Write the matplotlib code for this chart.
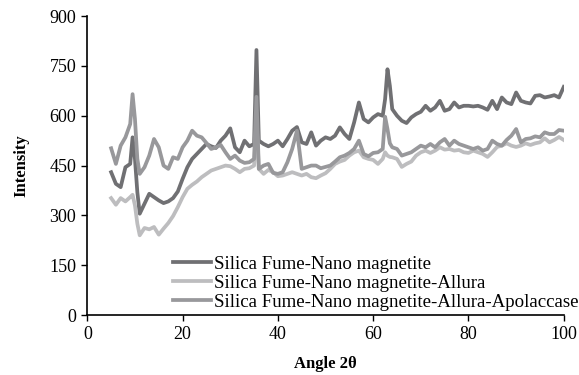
import matplotlib.pyplot as plt

# --- XRD data ---
angle = [5, 6, 7, 8, 9, 9.5, 10, 10.5, 11, 12, 13, 14, 15, 16, 17, 18, 19, 20,
         21, 22, 23, 24, 25, 26, 27, 28, 29, 30,
         31, 32, 33, 34, 35, 35.5, 36, 37, 38, 39, 40,
         41, 42, 43, 44, 45, 46, 47, 48, 49, 50,
         51, 52, 53, 54, 55, 56, 57, 58, 59, 60,
         61, 62, 62.5, 63, 63.5, 64, 65, 66, 67, 68, 69, 70,
         71, 72, 73, 74, 75, 76, 77, 78, 79, 80,
         81, 82, 83, 84, 85, 86, 87, 88, 89, 90,
         91, 92, 93, 94, 95, 96, 97, 98, 99, 100]

nano_magnetite = [430, 395, 385, 445, 455, 535, 470, 370, 305, 335, 365, 355, 345, 337, 342, 352, 372, 410,
                  445, 470, 485, 500, 515, 508, 503, 525, 540, 562,
                  505, 490, 525, 508, 515, 798, 525, 515, 508, 515, 525,
                  508, 530, 555, 566, 520, 515, 550, 510, 525, 535,
                  530, 540, 565, 545, 530, 580, 640, 590, 580, 595,
                  605, 600, 650, 740, 690, 620, 600, 585, 578, 595, 605, 612,
                  630, 615, 625, 645, 615, 620, 640, 625, 630, 630,
                  628, 630, 625, 618, 645, 620, 655, 640, 635, 670,
                  645, 640, 637, 660, 662, 655, 658, 662, 655, 687]

allura = [352, 332, 352, 342, 355, 362, 330, 275, 240, 262, 258, 265, 242, 260, 277, 298, 325, 355,
          380, 392, 402, 415, 425, 435, 440, 445, 450, 448,
          440, 430, 440, 442, 450, 590, 440, 425, 437, 430, 418,
          420, 425, 430, 425, 420, 425, 415, 412, 420, 427,
          440, 455, 462, 467, 480, 490, 495, 475, 470, 467,
          455, 470, 490, 480, 476, 475, 470, 446, 455, 462, 480, 490,
          495, 488, 495, 505, 498, 500, 495, 497, 490, 488,
          495, 490, 485, 476, 490, 506, 510, 517, 510, 506,
          510, 517, 512, 517, 520, 532, 520, 527, 536, 527]

apolaccase = [502, 455, 510, 535, 575, 665, 590, 470, 425, 445, 480, 530, 505, 450, 440, 475, 470, 505,
              525, 555, 540, 535, 518, 500, 505, 512, 490, 470,
              480, 465, 458, 460, 470, 657, 440, 450, 455, 428, 425,
              430, 460, 500, 555, 440, 445, 450, 450, 442, 446,
              450, 462, 475, 480, 488, 500, 525, 485, 478, 488,
              490, 500, 597, 560, 517, 505, 500, 480, 485, 490, 500, 510,
              505, 515, 505, 520, 530, 510, 525, 515, 510, 505,
              500, 505, 495, 500, 525, 515, 510, 527, 540, 560,
              520, 530, 532, 538, 535, 550, 545, 545, 557, 555]

labels = ['Silica Fume-Nano magnetite',
          'Silica Fume-Nano magnetite-Allura',
          'Silica Fume-Nano magnetite-Allura-Apolaccase']
colors = ['#707073', '#bdbdbf', '#98989b']

plt.rcParams['font.family'] = ['Liberation Serif', 'DejaVu Serif']

fig = plt.figure(figsize=(5.79, 3.75), dpi=100)
ax = fig.add_axes([0.1508, 0.16, 0.8229, 0.797])

for ys, lab, c in zip([nano_magnetite, allura, apolaccase], labels, colors):
    ax.plot(angle, ys, color=c, lw=2.7, label=lab, solid_joinstyle='round')

ax.set_xlim(0, 100)
ax.set_ylim(0, 900)
ax.set_xticks([0, 20, 40, 60, 80, 100])
ax.set_yticks([0, 150, 300, 450, 600, 750, 900])
ax.tick_params(direction='out', length=4, width=1, labelsize=13, pad=4)
for s in ['top', 'right']:
    ax.spines[s].set_visible(False)
for s in ['left', 'bottom']:
    ax.spines[s].set_linewidth(1.2)

ax.set_xlabel('Angle 2θ', fontsize=12, fontweight='bold', labelpad=9)
ax.set_ylabel('Intensity', fontsize=12, fontweight='bold', labelpad=14)

ax.legend(loc='lower left', bbox_to_anchor=(0.18, 0.015), frameon=False,
          fontsize=13.6, handlelength=2.0, handletextpad=0.15, labelspacing=0.08,
          borderpad=0, borderaxespad=0)

fig.savefig('out.png', dpi=100)
